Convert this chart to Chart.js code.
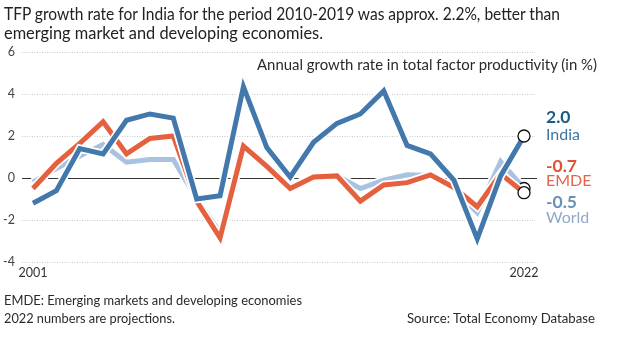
<!DOCTYPE html>
<html>
<head>
<meta charset="utf-8">
<script src="https://cdn.jsdelivr.net/npm/chart.js@4.4.1/dist/chart.umd.min.js"></script>
<style>
  html, body { margin: 0; padding: 0; background: #fff; }
  #wrap { position: relative; width: 626px; height: 341px; overflow: hidden; font-family: 'Lato', 'Liberation Sans', sans-serif; color: #222; }
  canvas { position: absolute; left: 0; top: 0; }
  .t { position: absolute; white-space: nowrap; transform-origin: left center; }
  .lab { position: absolute; white-space: nowrap; line-height: 1; }
</style>
</head>
<body>
<div id="wrap">
  <canvas id="c" width="626" height="341"></canvas>
  <div class="t" id="t1" data-w="556" style="left:4px; top:4px; font-size:17.5px; line-height:20px;">TFP growth rate for India for the period 2010-2019 was approx. 2.2%, better than</div>
  <div class="t" id="t2" data-w="319" style="left:4px; top:23px; font-size:17.5px; line-height:20px;">emerging market and developing economies.</div>
  <div class="t" id="st" data-w="340" style="left:257px; top:55px; font-size:15px; line-height:18px; color:#2a2a2a;">Annual growth rate in total factor productivity (in %)</div>
  <div class="t" id="f1" data-w="298" style="left:4px; top:291px; font-size:13.5px; line-height:18px; color:#2a2a2a;">EMDE: Emerging markets and developing economies</div>
  <div class="t" id="f2" data-w="171" style="left:4px; top:309px; font-size:13.5px; line-height:18px; color:#2a2a2a;">2022 numbers are projections.</div>
  <div class="t" id="f3" data-w="188" style="left:407px; top:309px; font-size:13.5px; line-height:18px; color:#2a2a2a;">Source: Total Economy Database</div>
  <div class="lab" style="left:546px; top:108px; font-size:17.5px; font-weight:bold; color:#1d5b87;">2.0</div>
  <div class="lab" style="left:546px; top:126px; font-size:16px; color:#3f75a5;">India</div>
  <div class="lab" style="left:546px; top:157px; font-size:17.5px; font-weight:bold; color:#df5134;">-0.7</div>
  <div class="lab" style="left:546px; top:172px; font-size:16px; color:#e0664b;">EMDE</div>
  <div class="lab" style="left:546px; top:193px; font-size:17.5px; font-weight:bold; color:#6b90b6;">-0.5</div>
  <div class="lab" style="left:546px; top:209px; font-size:16px; color:#8faac7;">World</div>
</div>
<script>
// ---- data ----
const years = [2001,2002,2003,2004,2005,2006,2007,2008,2009,2010,2011,2012,2013,2014,2015,2016,2017,2018,2019,2020,2021,2022];
const india = [-1.2,-0.6,1.4,1.15,2.75,3.05,2.85,-1.0,-0.85,4.35,1.45,0.05,1.7,2.6,3.05,4.15,1.55,1.15,-0.1,-2.9,0.1,2.0];
const emde  = [-0.5,0.7,1.65,2.68,1.15,1.88,2.0,-1.1,-2.85,1.52,0.55,-0.5,0.05,0.1,-1.1,-0.33,-0.22,0.15,-0.45,-1.37,0.2,-0.7];
const world = [-0.2,0.45,1.05,1.6,0.75,0.88,0.88,-1.0,-2.6,1.4,0.5,-0.4,0.05,0.1,-0.5,-0.1,0.15,0.12,-0.5,-1.65,0.78,-0.5];
const xTickYears = [2001, 2022];
const yTicks = [-4,-2,0,2,4,6];

// fit text widths
document.querySelectorAll('.t').forEach(el => {
  const target = parseFloat(el.dataset.w);
  const w = el.getBoundingClientRect().width;
  if (w > 0) el.style.transform = 'scaleX(' + (target / w) + ')';
});

const pts = arr => arr.map((v, i) => ({x: years[i], y: v}));
const last = years.length - 1;

function series(data, color, order) {
  return [
    {
      data: pts(data), borderColor: color, borderWidth: 5, order: order,
      pointRadius: ctx => ctx.dataIndex === last ? 6 : 0,
      pointBackgroundColor: '#fff', pointBorderColor: '#111', pointBorderWidth: 1.3,
      tension: 0, clip: false
    },
    {
      data: pts(data), borderColor: '#ffffff', borderWidth: 8.5, order: order + 1,
      pointRadius: 0, tension: 0
    }
  ];
}

const zeroLine = {
  id: 'zeroLine',
  beforeDatasetsDraw(chart) {
    const y = chart.scales.y.getPixelForValue(0);
    const ctx = chart.ctx;
    ctx.save();
    ctx.strokeStyle = '#333';
    ctx.lineWidth = 1;
    ctx.beginPath();
    ctx.moveTo(chart.chartArea.left, Math.round(y) + 0.5);
    ctx.lineTo(chart.chartArea.right + 2, Math.round(y) + 0.5);
    ctx.stroke();
    ctx.restore();
  }
};

new Chart(document.getElementById('c'), {
  type: 'line',
  data: {
    datasets: [
      ...series(india, '#4278ab', 0),
      ...series(emde, '#e4603e', 2),
      ...series(world, '#a8c2df', 4)
    ]
  },
  options: {
    responsive: false,
    animation: false,
    events: [],
    borderJoinStyle: 'miter',
    layout: { padding: { top: 52, right: 91, left: 0, bottom: 0 } },
    plugins: { legend: { display: false }, tooltip: { enabled: false } },
    scales: {
      x: {
        type: 'linear', min: 2000.53, max: 2022.47,
        afterFit(s) { s.height = 79; },
        afterBuildTicks(s) { s.ticks = xTickYears.map(v => ({value: v})); },
        ticks: { font: { family: 'Lato', size: 12.5 }, color: '#333', padding: 3, maxRotation: 0, autoSkip: false, callback: v => String(v) },
        grid: { display: false, drawTicks: false },
        border: { display: false }
      },
      y: {
        min: -4, max: 6,
        afterFit(s) { s.width = 22; },
        afterBuildTicks(s) { s.ticks = yTicks.map(v => ({value: v})); },
        ticks: { font: { family: 'Lato', size: 12.5 }, color: '#444', padding: 7 },
        grid: { drawTicks: false, color: c => (c.tick && c.tick.value === 0) ? 'rgba(0,0,0,0)' : '#c8c8c8', lineWidth: 1 },
        border: { display: false, dash: [1, 1.5] }
      }
    }
  },
  plugins: [zeroLine]
});
</script>
</body>
</html>
